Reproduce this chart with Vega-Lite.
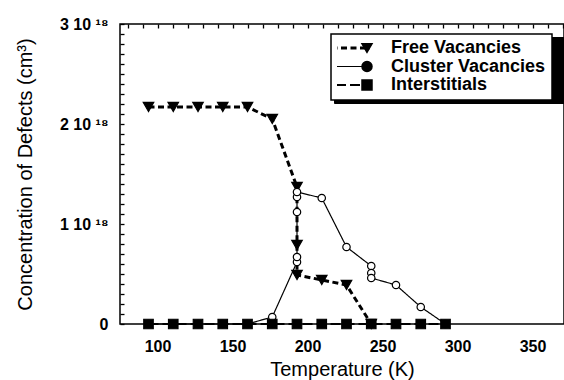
{
  "$schema": "https://vega.github.io/schema/vega-lite/v6.json",
  "width": 444,
  "height": 300,
  "autosize": {"type": "none"},
  "padding": {"left": 120, "top": 24, "right": 0, "bottom": 56},
  "background": "white",
  "config": {
    "view": {"stroke": "black", "strokeWidth": 1.5},
    "font": "Liberation Sans",
    "axis": {"zindex": 1, "domain": false, "ticks": false, "grid": true, "gridColor": "black", "gridOpacity": 1, "gridWidth": 1.3, "gridDash": [4, 2000], "labelColor": "black", "titleColor": "black"}
  },
  "data": {
    "values": [
      {"series": "Free Vacancies", "kind": "Free Vacancies", "i": 1, "T": 94, "c": 2.17e18},
      {"series": "Free Vacancies", "kind": "Free Vacancies", "i": 2, "T": 110.5, "c": 2.17e18},
      {"series": "Free Vacancies", "kind": "Free Vacancies", "i": 3, "T": 127, "c": 2.17e18},
      {"series": "Free Vacancies", "kind": "Free Vacancies", "i": 4, "T": 143.5, "c": 2.17e18},
      {"series": "Free Vacancies", "kind": "Free Vacancies", "i": 5, "T": 160, "c": 2.17e18},
      {"series": "Free Vacancies", "kind": "Free Vacancies", "i": 6, "T": 176.5, "c": 2.05e18},
      {"series": "Free Vacancies", "kind": "Free Vacancies", "i": 7, "T": 193, "c": 1.37e18},
      {"series": "Free Vacancies", "kind": "Free Vacancies", "i": 8, "T": 193, "c": 0.79e18},
      {"series": "Free Vacancies", "kind": "Free Vacancies", "i": 9, "T": 193, "c": 0.49e18},
      {"series": "Free Vacancies", "kind": "Free Vacancies", "i": 10, "T": 209.5, "c": 0.44e18},
      {"series": "Free Vacancies", "kind": "Free Vacancies", "i": 11, "T": 226, "c": 0.39e18},
      {"series": "Free Vacancies", "kind": "Free Vacancies", "i": 12, "T": 242.5, "c": 0},
      {"series": "Cluster Vacancies", "kind": "Cluster Vacancies", "i": 1, "T": 94, "c": 0},
      {"series": "Cluster Vacancies", "kind": "Cluster Vacancies", "i": 2, "T": 110.5, "c": 0},
      {"series": "Cluster Vacancies", "kind": "Cluster Vacancies", "i": 3, "T": 127, "c": 0},
      {"series": "Cluster Vacancies", "kind": "Cluster Vacancies", "i": 4, "T": 143.5, "c": 0},
      {"series": "Cluster Vacancies", "kind": "Cluster Vacancies", "i": 5, "T": 160, "c": 0},
      {"series": "Cluster Vacancies", "kind": "Cluster Vacancies", "i": 6, "T": 176.5, "c": 0.07e18},
      {"series": "Cluster Vacancies", "kind": "Cluster Vacancies", "i": 7, "T": 193, "c": 0.62e18},
      {"series": "Cluster Vacancies", "kind": "Cluster Vacancies", "i": 8, "T": 193, "c": 0.67e18},
      {"series": "Cluster Vacancies", "kind": "Cluster Vacancies", "i": 9, "T": 193, "c": 1.12e18},
      {"series": "Cluster Vacancies", "kind": "Cluster Vacancies", "i": 10, "T": 193, "c": 1.27e18},
      {"series": "Cluster Vacancies", "kind": "Cluster Vacancies", "i": 11, "T": 193, "c": 1.32e18},
      {"series": "Cluster Vacancies", "kind": "Cluster Vacancies", "i": 12, "T": 209.5, "c": 1.26e18},
      {"series": "Cluster Vacancies", "kind": "Cluster Vacancies", "i": 13, "T": 226, "c": 0.77e18},
      {"series": "Cluster Vacancies", "kind": "Cluster Vacancies", "i": 14, "T": 242.5, "c": 0.58e18},
      {"series": "Cluster Vacancies", "kind": "Cluster Vacancies", "i": 15, "T": 242.5, "c": 0.51e18},
      {"series": "Cluster Vacancies", "kind": "Cluster Vacancies", "i": 16, "T": 242.5, "c": 0.46e18},
      {"series": "Cluster Vacancies", "kind": "Cluster Vacancies", "i": 17, "T": 259, "c": 0.39e18},
      {"series": "Cluster Vacancies", "kind": "Cluster Vacancies", "i": 18, "T": 275.5, "c": 0.17e18},
      {"series": "Cluster Vacancies", "kind": "Cluster Vacancies", "i": 19, "T": 292, "c": 0},
      {"series": "Interstitials", "kind": "Interstitials", "i": 1, "T": 94, "c": 0},
      {"series": "Interstitials", "kind": "Interstitials", "i": 2, "T": 110.5, "c": 0},
      {"series": "Interstitials", "kind": "Interstitials", "i": 3, "T": 127, "c": 0},
      {"series": "Interstitials", "kind": "Interstitials", "i": 4, "T": 143.5, "c": 0},
      {"series": "Interstitials", "kind": "Interstitials", "i": 5, "T": 160, "c": 0},
      {"series": "Interstitials", "kind": "Interstitials", "i": 6, "T": 176.5, "c": 0},
      {"series": "Interstitials", "kind": "Interstitials", "i": 7, "T": 193, "c": 0},
      {"series": "Interstitials", "kind": "Interstitials", "i": 8, "T": 209.5, "c": 0},
      {"series": "Interstitials", "kind": "Interstitials", "i": 9, "T": 226, "c": 0},
      {"series": "Interstitials", "kind": "Interstitials", "i": 10, "T": 242.5, "c": 0},
      {"series": "Interstitials", "kind": "Interstitials", "i": 11, "T": 259, "c": 0},
      {"series": "Interstitials", "kind": "Interstitials", "i": 12, "T": 275.5, "c": 0},
      {"series": "Interstitials", "kind": "Interstitials", "i": 13, "T": 292, "c": 0}
    ]
  },
  "layer": [
    {
      "mark": {"type": "line"},
      "encoding": {
        "x": {
          "field": "T", "type": "quantitative",
          "scale": {"domain": [75, 371], "nice": false, "zero": false},
          "axis": {
            "orient": "bottom", "gridDash": [4, 2000],
            "values": [80, 90, 100, 110, 120, 130, 140, 150, 160, 170, 180, 190, 200, 210, 220, 230, 240, 250, 260, 270, 280, 290, 300, 310, 320, 330, 340, 350, 360, 370],
            "labelExpr": "datum.value % 50 === 0 ? datum.label : ''",
            "labelFontWeight": "bold", "labelFontSize": 16, "labelPadding": 14,
            "labelOverlap": false, "labelFlush": false,
            "title": "Temperature (K)", "titleFontSize": 20, "titleFontWeight": "normal", "titlePadding": 5
          }
        },
        "y": {
          "field": "c", "type": "quantitative",
          "scale": {"domain": [0, 3e18], "nice": false},
          "axis": {
            "orient": "left", "gridDash": [4, 2000],
            "values": [0, 1e17, 2e17, 3e17, 4e17, 5e17, 6e17, 7e17, 8e17, 9e17, 1e18, 1.1e18, 1.2e18, 1.3e18, 1.4e18, 1.5e18, 1.6e18, 1.7e18, 1.8e18, 1.9e18, 2e18, 2.1e18, 2.2e18, 2.3e18, 2.4e18, 2.5e18, 2.6e18, 2.7e18, 2.8e18, 2.9e18, 3e18],
            "labelExpr": "datum.value === 0 ? '0' : (datum.value % 1e18 === 0 ? (datum.value / 1e18) + ' 10 ¹⁸' : '')",
            "labelFontWeight": "bold", "labelFontSize": 16, "labelPadding": 12,
            "labelOverlap": false, "labelFlush": false,
            "title": "Concentration of Defects (cm³)", "titleFontSize": 20, "titleFontWeight": "normal", "titlePadding": 24
          }
        },
        "order": {"field": "i", "type": "quantitative"},
        "color": {
          "field": "kind", "type": "nominal", "sort": "descending",
          "scale": {"range": ["black", "black", "black"]},
          "legend": {
            "orient": "none", "legendX": 214, "legendY": 13, "title": null,
            "symbolType": "stroke", "symbolSize": 2304, "symbolOpacity": 0,
            "clipHeight": 16,
            "labelFontSize": 18, "labelFontWeight": "bold", "labelColor": "black", "labelOffset": 36,
            "padding": 6, "rowPadding": 0.5, "strokeColor": "black", "fillColor": "black"
          }
        },
        "strokeWidth": {
          "condition": [
            {"test": "datum.series === 'Free Vacancies'", "value": 3},
            {"test": "datum.series === 'Interstitials'", "value": 2}
          ],
          "value": 1.2
        },
        "strokeDash": {
          "field": "series", "type": "nominal",
          "scale": {"domain": ["Free Vacancies", "Cluster Vacancies", "Interstitials"], "range": [[6, 3.5], [1, 0], [10, 4]]},
          "legend": {
            "orient": "none", "legendX": 211, "legendY": 10, "title": null,
            "symbolType": "stroke", "symbolSize": 2304, "symbolStrokeColor": "black",
            "clipHeight": 16,
            "labelFontSize": 18, "labelFontWeight": "bold", "labelColor": "black", "labelOffset": 36,
            "padding": 6, "rowPadding": 0.5, "strokeColor": "black", "fillColor": "white",
            "encode": {
              "legend": {"update": {"strokeWidth": {"value": 1.5}}},
              "symbols": {"update": {"strokeWidth": {"signal": "datum.value === 'Free Vacancies' ? 3 : (datum.value === 'Interstitials' ? 2 : 1.2)"}}}
            }
          }
        }
      }
    },
    {
      "mark": {"type": "point", "filled": true, "stroke": "black", "strokeWidth": 1.2, "opacity": 1},
      "encoding": {
        "x": {
          "field": "T", "type": "quantitative",
          "scale": {"domain": [75, 371], "nice": false, "zero": false},
          "axis": {
            "orient": "bottom", "gridDash": [7, 2000],
            "values": [100, 150, 200, 250, 300, 350],
            "labels": false, "title": null
          }
        },
        "y": {
          "field": "c", "type": "quantitative",
          "scale": {"domain": [0, 3e18], "nice": false},
          "axis": {
            "orient": "left", "gridDash": [8, 2000],
            "values": [0, 1e18, 2e18, 3e18],
            "labels": false, "title": null
          }
        },
        "shape": {
          "field": "kind", "type": "nominal",
          "sort": ["Free Vacancies", "Cluster Vacancies", "Interstitials"],
          "scale": {"range": ["triangle-down", "circle", "square"]},
          "legend": {
            "orient": "none", "legendX": 232, "legendY": 10, "title": null,
            "clipHeight": 16,
            "labelFontSize": 18, "labelFontWeight": "bold", "labelColor": "transparent", "labelOffset": 4,
            "padding": 6, "rowPadding": 0.5,
            "encode": {"symbols": {"update": {
              "fill": {"signal": "datum.value === 'Cluster Vacancies' ? 'white' : 'black'"},
              "stroke": {"value": "black"},
              "strokeWidth": {"value": 1.2},
              "opacity": {"value": 1},
              "size": {"signal": "datum.value === 'Cluster Vacancies' ? 55 : (datum.value === 'Interstitials' ? 90 : 110)"}
            }}}
          }
        },
        "fill": {"condition": {"test": "datum.kind === 'Cluster Vacancies'", "value": "white"}, "value": "black"},
        "size": {
          "condition": [
            {"test": "datum.kind === 'Cluster Vacancies'", "value": 55},
            {"test": "datum.kind === 'Interstitials'", "value": 90}
          ],
          "value": 110
        }
      }
    },
    {
      "mark": {"type": "point", "opacity": 0},
      "encoding": {
        "x": {
          "field": "T", "type": "quantitative",
          "scale": {"domain": [75, 371], "nice": false, "zero": false},
          "axis": {
            "orient": "top", "gridDash": [4, 2000],
            "values": [80, 90, 100, 110, 120, 130, 140, 150, 160, 170, 180, 190, 200, 210, 220, 230, 240, 250, 260, 270, 280, 290, 300, 310, 320, 330, 340, 350, 360, 370],
            "labels": false, "title": null
          }
        },
        "y": {"field": "c", "type": "quantitative", "scale": {"domain": [0, 3e18], "nice": false}, "axis": null}
      }
    },
    {
      "mark": {"type": "point", "opacity": 0},
      "encoding": {
        "x": {
          "field": "T", "type": "quantitative",
          "scale": {"domain": [75, 371], "nice": false, "zero": false},
          "axis": {
            "orient": "top", "gridDash": [7, 2000],
            "values": [100, 150, 200, 250, 300, 350],
            "labels": false, "title": null
          }
        },
        "y": {"field": "c", "type": "quantitative", "scale": {"domain": [0, 3e18], "nice": false}, "axis": null}
      }
    }
  ],
  "resolve": {"axis": {"x": "independent", "y": "independent"}}
}
